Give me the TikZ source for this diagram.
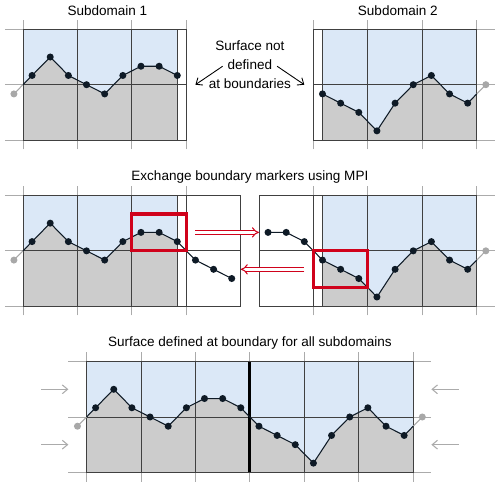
\documentclass[tikz,border=0pt]{standalone}
\usepackage{fontspec}
\setsansfont{Liberation Sans}
\usepackage{tikz}
\usetikzlibrary{arrows.meta}
\definecolor{sdblue}{HTML}{DBE8F7}
\definecolor{sdgray}{HTML}{CCCCCC}
\definecolor{sdline}{HTML}{ABABAB}
\definecolor{sdghost}{HTML}{A8A8A8}
\definecolor{sddot}{HTML}{0E1A26}
\definecolor{sdred}{HTML}{D0021B}
% surface heights at the cell thirds of one subdomain
\newcommand\surfA{1/1,3/3,5/1,7/0,9/-1,11/1,13/2,15/2,17/1}
\newcommand\surfB{1/-1,3/-2,5/-3,7/-5,9/-2,11/0,13/1,15/-1,17/-2}
\tikzset{
 gridline/.style={sdline,line width=0.5pt},
 boxline/.style={black!75,line width=0.5pt},
 surf/.style={sddot,line width=0.6pt},
 ghost/.style={sdghost,line width=0.6pt},
 halo/.style={sdred,line width=1.8pt},
 mpi/.style={sdred,double=white,double distance=1.4pt,line width=0.6pt,-{Implies}},
 bnd/.style={sdline,line width=0.6pt,-{Straight Barb[length=3pt,width=5pt]}},
 note/.style={line width=0.5pt,-{Straight Barb[length=3pt,width=5pt]}},
}

\begin{document}
\begin{tikzpicture}[x=0.1815cm,y=0.1846cm,font=\sffamily\fontsize{7.7}{10.8}\selectfont]
\useasboundingbox (-0.46cm,-8.066cm) rectangle (9.54cm,1.694cm);
% top row: surface not defined at boundaries
\begin{scope}
\fill[sdblue] (0,-6) rectangle (17,6);
\fill[sdgray] (0,-6) -- (0,0) \foreach \x/\y in \surfA {-- (\x,\y)} -- (17,-6) -- cycle;
\foreach \y in {-6,0,6} \draw[gridline] (-2,\y) -- (18,\y);
\foreach \x in {0,6,12,18} \draw[gridline] (\x,-7) -- (\x,7);
\draw[boxline] (0,-6) rectangle (18,6) (0,0) -- (18,0) (17,-6) -- (17,6);
\foreach \x in {6,12} \draw[boxline] (\x,-6) -- (\x,6);
\draw[ghost] (-1,-1) -- (0,0);
\fill[sdghost] (-1,-1) circle (2pt);
\draw[surf] (0,0) \foreach \x/\y in \surfA {-- (\x,\y)};
\foreach \x/\y in \surfA \fill[sddot] (\x,\y) circle (2pt);
\node (sub1) at (9.3,8) {Subdomain 1};
\end{scope}
\begin{scope}[shift={(32,0)}]
\fill[sdblue] (1,-6) rectangle (18,6);
\fill[sdgray] (1,-6) \foreach \x/\y in \surfB {-- (\x,\y)} -- (18,-1) -- (18,-6) -- cycle;
\foreach \y in {-6,0,6} \draw[gridline] (0,\y) -- (20,\y);
\foreach \x in {0,6,12,18} \draw[gridline] (\x,-7) -- (\x,7);
\draw[boxline] (0,-6) rectangle (18,6) (0,0) -- (18,0) (1,-6) -- (1,6);
\foreach \x in {6,12} \draw[boxline] (\x,-6) -- (\x,6);
\draw[ghost] (18,-1) -- (19,0);
\fill[sdghost] (19,0) circle (2pt);
\draw[surf] (1,-1) \foreach \x/\y in \surfB {-- (\x,\y)} -- (18,-1);
\foreach \x/\y in \surfB \fill[sddot] (\x,\y) circle (2pt);
\node (sub2) at (9.3,8) {Subdomain 2};
\end{scope}
\node[align=center] (undef) at (25,2.2) {Surface not\\defined\\at boundaries};
\coordinate (ua) at (22,2);
\coordinate (ub) at (19,0);
\coordinate (uc) at (28,2);
\coordinate (ud) at (31,0);
\draw[note] (ua) -- (ub);
\draw[note] (uc) -- (ud);
% middle row: halo exchange
\begin{scope}[shift={(0,-18)}]
\fill[sdblue] (0,-6) rectangle (17,6);
\fill[sdgray] (0,-6) -- (0,0) \foreach \x/\y in \surfA {-- (\x,\y)} -- (17,-6) -- cycle;
\foreach \y in {-6,0,6} \draw[gridline] (-2,\y) -- (18,\y);
\foreach \x in {0,6,12,18} \draw[gridline] (\x,-7) -- (\x,7);
\draw[boxline] (0,-6) rectangle (24,6) (0,0) -- (24,0) (17,-6) -- (17,6);
\foreach \x in {6,12,18} \draw[boxline] (\x,-6) -- (\x,6);
\draw[ghost] (-1,-1) -- (0,0);
\fill[sdghost] (-1,-1) circle (2pt);
\draw[surf] (0,0) \foreach \x/\y in \surfA {-- (\x,\y)} -- (19,-1) -- (21,-2) -- (23,-3);
\foreach \x/\y in {1/1,3/3,5/1,7/0,9/-1,11/1,13/2,15/2,17/1,19/-1,21/-2,23/-3}
 \fill[sddot] (\x,\y) circle (2pt);
\draw[halo] (12,0) rectangle (18,4);
\node (mpi) at (25,8) {Exchange boundary markers using MPI};
\coordinate (sa) at (19,2);
\coordinate (sb) at (26,2);
\coordinate (ra) at (31,-2);
\coordinate (rb) at (24,-2);
\end{scope}
\begin{scope}[shift={(32,-18)}]
\fill[sdblue] (1,-6) rectangle (18,6);
\fill[sdgray] (1,-6) \foreach \x/\y in \surfB {-- (\x,\y)} -- (18,-1) -- (18,-6) -- cycle;
\foreach \y in {-6,0,6} \draw[gridline] (0,\y) -- (20,\y);
\foreach \x in {0,6,12,18} \draw[gridline] (\x,-7) -- (\x,7);
\draw[boxline] (-6,-6) rectangle (18,6) (-6,0) -- (18,0) (1,-6) -- (1,6);
\foreach \x in {0,6,12} \draw[boxline] (\x,-6) -- (\x,6);
\draw[ghost] (18,-1) -- (19,0);
\fill[sdghost] (19,0) circle (2pt);
\draw[surf] (-5,2) -- (-3,2) -- (-1,1) \foreach \x/\y in \surfB {-- (\x,\y)} -- (18,-1);
\foreach \x/\y in {-5/2,-3/2,-1/1,1/-1,3/-2,5/-3,7/-5,9/-2,11/0,13/1,15/-1,17/-2}
 \fill[sddot] (\x,\y) circle (2pt);
\draw[halo] (0,-4) rectangle (6,0);
\end{scope}
\draw[mpi] (sa) -- (sb);
\draw[mpi] (ra) -- (rb);
% bottom row: joined surface
\begin{scope}[shift={(7,-36)}]
\fill[sdblue] (0,-6) rectangle (36,6);
\fill[sdgray] (0,-6) -- (0,0) \foreach \x/\y in \surfA {-- (\x,\y)}
 \foreach \x/\y in \surfB {-- ({\x+18},\y)} -- (36,-1) -- (36,-6) -- cycle;
\foreach \y in {-6,0,6} \draw[gridline] (-2,\y) -- (38,\y);
\foreach \x in {0,6,...,36} \draw[gridline] (\x,-7) -- (\x,7);
\draw[boxline] (0,-6) rectangle (36,6) (0,0) -- (36,0);
\foreach \x in {6,12,24,30} \draw[boxline] (\x,-6) -- (\x,6);
\draw[black,line width=1.7pt] (18,-6) -- (18,6);
\draw[ghost] (-1,-1) -- (0,0) (36,-1) -- (37,0);
\fill[sdghost] (-1,-1) circle (2pt) (37,0) circle (2pt);
\draw[surf] (0,0) \foreach \x/\y in \surfA {-- (\x,\y)}
 \foreach \x/\y in \surfB {-- ({\x+18},\y)} -- (36,-1);
\foreach \x/\y in \surfA \fill[sddot] (\x,\y) circle (2pt);
\foreach \x/\y in \surfB \fill[sddot] ({\x+18},\y) circle (2pt);
\node (joined) at (18,8) {Surface defined at boundary for all subdomains};
\coordinate (la) at (-5,3);
\coordinate (lb) at (-2,3);
\coordinate (lc) at (-5,-3);
\coordinate (ld) at (-2,-3);
\coordinate (rc) at (41,3);
\coordinate (rd) at (38,3);
\coordinate (re) at (41,-3);
\coordinate (rf) at (38,-3);
\draw[bnd] (la) -- (lb);
\draw[bnd] (lc) -- (ld);
\draw[bnd] (rc) -- (rd);
\draw[bnd] (re) -- (rf);
\end{scope}
\end{tikzpicture}
\end{document}
